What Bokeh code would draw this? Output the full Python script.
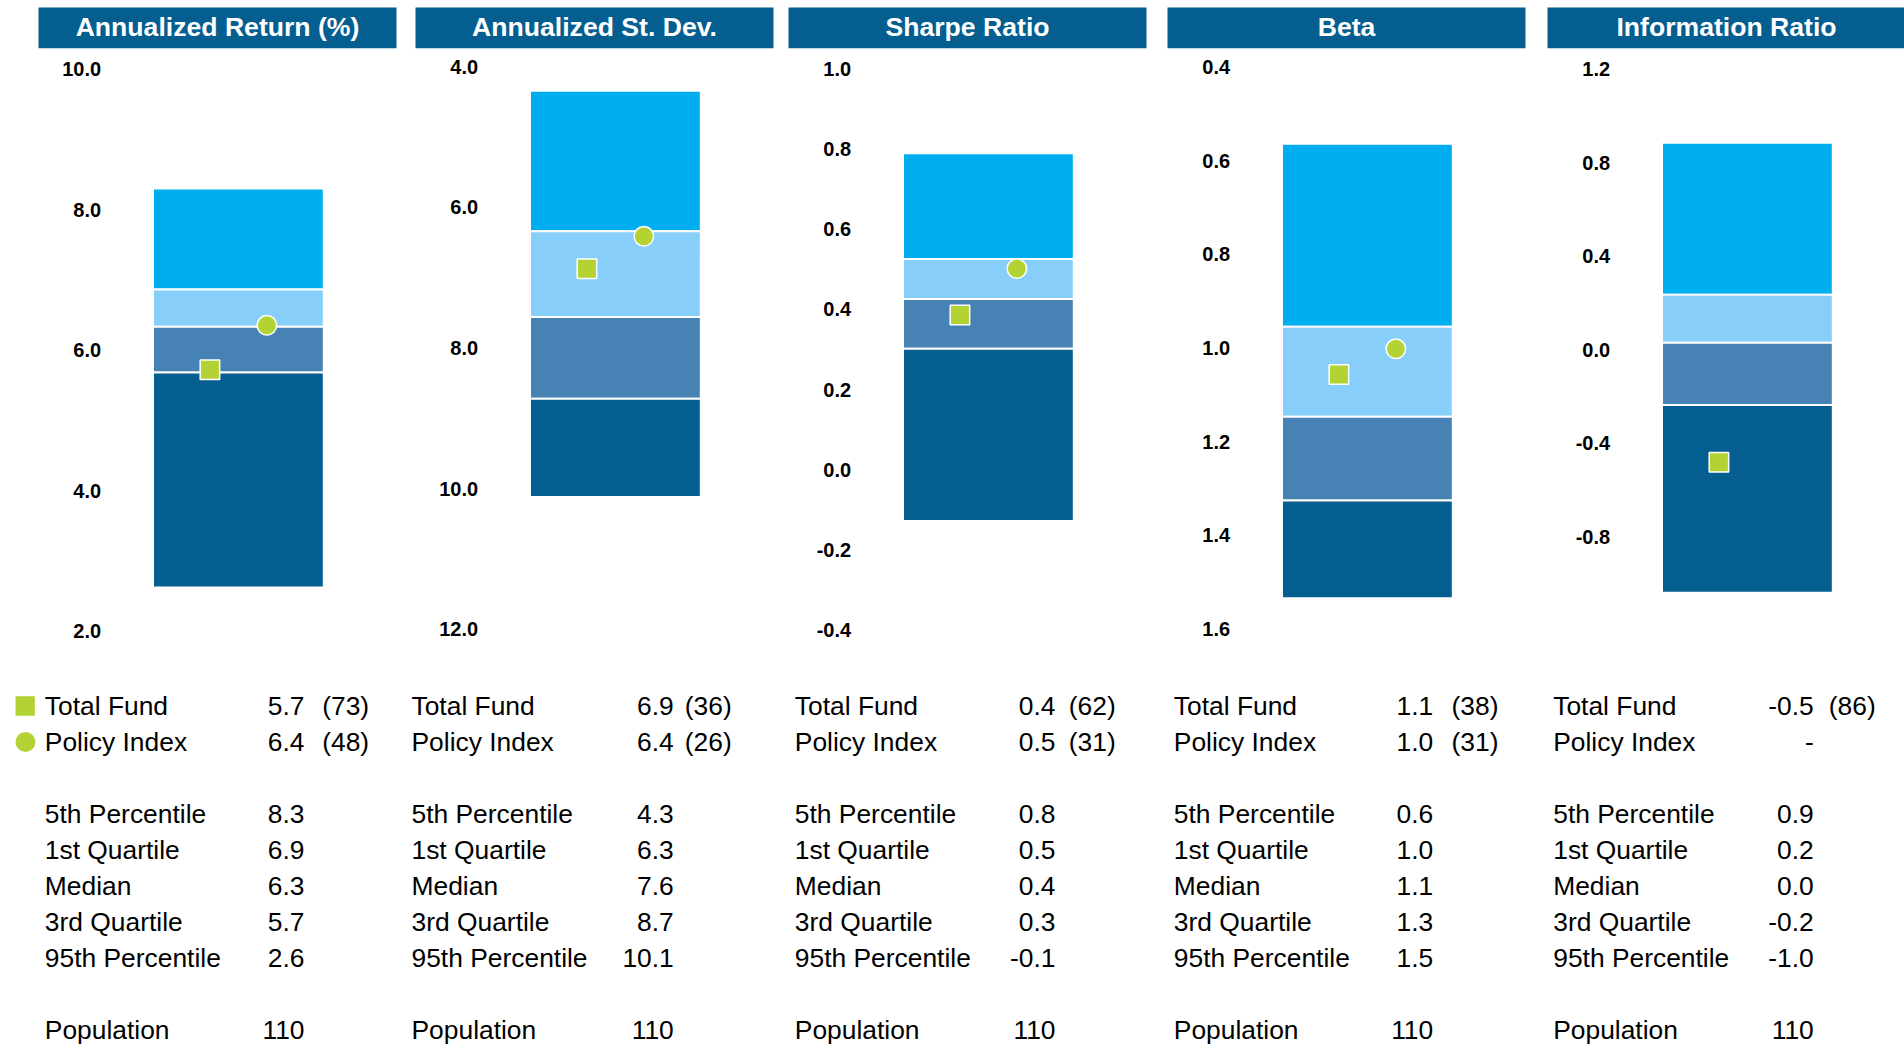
import numpy as np
from bokeh.plotting import figure
from bokeh.models import Range1d, ColumnDataSource
from bokeh.core.properties import value
from bokeh.embed import file_html
from bokeh.resources import INLINE

# ---------------- data ----------------
titles = ["Annualized Return (%)", "Annualized St. Dev.", "Sharpe Ratio", "Beta", "Information Ratio"]
p5 = [8.30, 4.34, 0.79, 0.564, 0.885]
q1 = [6.86, 6.34, 0.526, 0.955, 0.235]
med = [6.33, 7.56, 0.426, 1.147, 0.03]
q3 = [5.68, 8.72, 0.302, 1.326, -0.236]
p95 = [2.62, 10.12, -0.128, 1.535, -1.038]
fund = [5.72, 6.87, 0.386, 1.057, -0.48]
policy = [6.352, 6.41, 0.502, 1.002, None]
fund_rank = [73, 36, 62, 38, 86]
policy_rank = [48, 26, 31, 31, None]
population = [110, 110, 110, 110, 110]
ticks = [
    [10.0, 8.0, 6.0, 4.0, 2.0],
    [4.0, 6.0, 8.0, 10.0, 12.0],
    [1.0, 0.8, 0.6, 0.4, 0.2, 0.0, -0.2, -0.4],
    [0.4, 0.6, 0.8, 1.0, 1.2, 1.4, 1.6],
    [1.2, 0.8, 0.4, 0.0, -0.4, -0.8],
]
row_labels = ["Total Fund", "Policy Index", "5th Percentile", "1st Quartile",
              "Median", "3rd Quartile", "95th Percentile", "Population"]

# ---------------- layout / style ----------------
W, H = 1904, 1044
panel_left = [38, 415, 788, 1167, 1547]
# axis calibration: two (value, page-y) pairs per panel
axis_cal = [((10.0, 68.5), (2.0, 630.5)),
            ((4.0, 66.4), (12.0, 628.7)),
            ((1.0, 68.6), (-0.4, 629.5)),
            ((0.4, 66.4), (1.6, 628.3)),
            ((1.2, 68.5), (-0.8, 536.6))]
TITLE_W = 358
BAR_L, BAR_R = 114.5, 285.3
TICK_R = 62.6
lab_left = [6.3, -4.0, 6.3, 6.3, 5.7]
val_right = [266.0, 258.3, 267.0, 265.7, 266.3]
rank_left = [283.7, 269.3, 280.3, 284.0, 281.3]
row_y = [705.5, 741.5, 813.5, 849.5, 885.5, 921.5, 957.5, 1029.0]

DARK = "#045E8F"
BAND_COLORS = ["#00AEEF", "#87CEFA", "#4682B4", "#045E8F"]
GREEN = "#B3D234"
FONT = value("Liberation Sans")

p = figure(width=W, height=H, output_backend="svg", toolbar_location=None,
           x_range=Range1d(0, W), y_range=Range1d(H, 0),
           x_axis_type=None, y_axis_type=None, min_border=0)
p.outline_line_color = None
p.background_fill_color = "white"
p.border_fill_color = "white"

for i in range(5):
    (va, pa), (vb, pb) = axis_cal[i]
    s = (vb - va) / (pb - pa)
    p.extra_y_ranges[f"r{i}"] = Range1d(start=va + (H - pa) * s, end=va + (0 - pa) * s)

# title bars
p.quad(left=panel_left, right=[x + TITLE_W for x in panel_left],
       top=[7.0] * 5, bottom=[47.7] * 5, fill_color=DARK, line_color=None)
p.text(x=[x + TITLE_W / 2 for x in panel_left], y=[26.5] * 5, text=titles,
       text_align="center", text_baseline="middle", text_color="white",
       text_font=FONT, text_font_style="bold", text_font_size="26.6px")

for i in range(5):
    rn = f"r{i}"
    bl = panel_left[i] + BAR_L
    br = panel_left[i] + BAR_R
    # percentile bands
    src = ColumnDataSource(dict(
        left=[bl] * 4, right=[br] * 4,
        top=[p5[i], q1[i], med[i], q3[i]],
        bottom=[q1[i], med[i], q3[i], p95[i]],
        color=BAND_COLORS))
    p.quad(left="left", right="right", top="top", bottom="bottom", source=src,
           fill_color="color", line_color="white", line_width=2, y_range_name=rn)
    # tick labels
    p.text(x=[panel_left[i] + TICK_R] * len(ticks[i]), y=ticks[i],
           text=[f"{t:.1f}" for t in ticks[i]], y_range_name=rn,
           text_align="right", text_baseline="middle", text_color="#000000",
           text_font=FONT, text_font_style="bold", text_font_size="20px")
    # markers
    w = BAR_R - BAR_L
    p.scatter(x=[bl + w / 3], y=[fund[i]], marker="square", size=19.5,
              fill_color=GREEN, line_color="white", line_width=1.5, y_range_name=rn)
    if policy[i] is not None:
        p.scatter(x=[bl + 2 * w / 3], y=[policy[i]], marker="circle", size=19.5,
                  fill_color=GREEN, line_color="white", line_width=1.5, y_range_name=rn)

    # table
    vals = [f"{fund[i]:.1f}",
            f"{policy[i]:.1f}" if policy[i] is not None else "-",
            f"{p5[i]:.1f}", f"{q1[i]:.1f}", f"{med[i]:.1f}", f"{q3[i]:.1f}", f"{p95[i]:.1f}",
            str(population[i])]
    p.text(x=[panel_left[i] + lab_left[i]] * len(row_labels), y=row_y, text=row_labels,
           text_align="left", text_baseline="middle", text_color="#000000",
           text_font=FONT, text_font_size="26.4px")
    p.text(x=[panel_left[i] + val_right[i]] * len(vals), y=row_y, text=vals,
           text_align="right", text_baseline="middle", text_color="#000000",
           text_font=FONT, text_font_size="26.4px")
    ranks = [f"({fund_rank[i]})", f"({policy_rank[i]})" if policy_rank[i] is not None else ""]
    p.text(x=[panel_left[i] + rank_left[i]] * 2, y=row_y[:2], text=ranks,
           text_align="left", text_baseline="middle", text_color="#000000",
           text_font=FONT, text_font_size="26.4px")

# legend markers in first table
p.scatter(x=[panel_left[0] - 13.3], y=[row_y[0]], marker="square", size=19.3,
          fill_color=GREEN, line_color=None)
p.scatter(x=[panel_left[0] - 13.0], y=[row_y[1]], marker="circle", size=20,
          fill_color=GREEN, line_color=None)

open("out.html", "w").write(file_html(p, INLINE))
